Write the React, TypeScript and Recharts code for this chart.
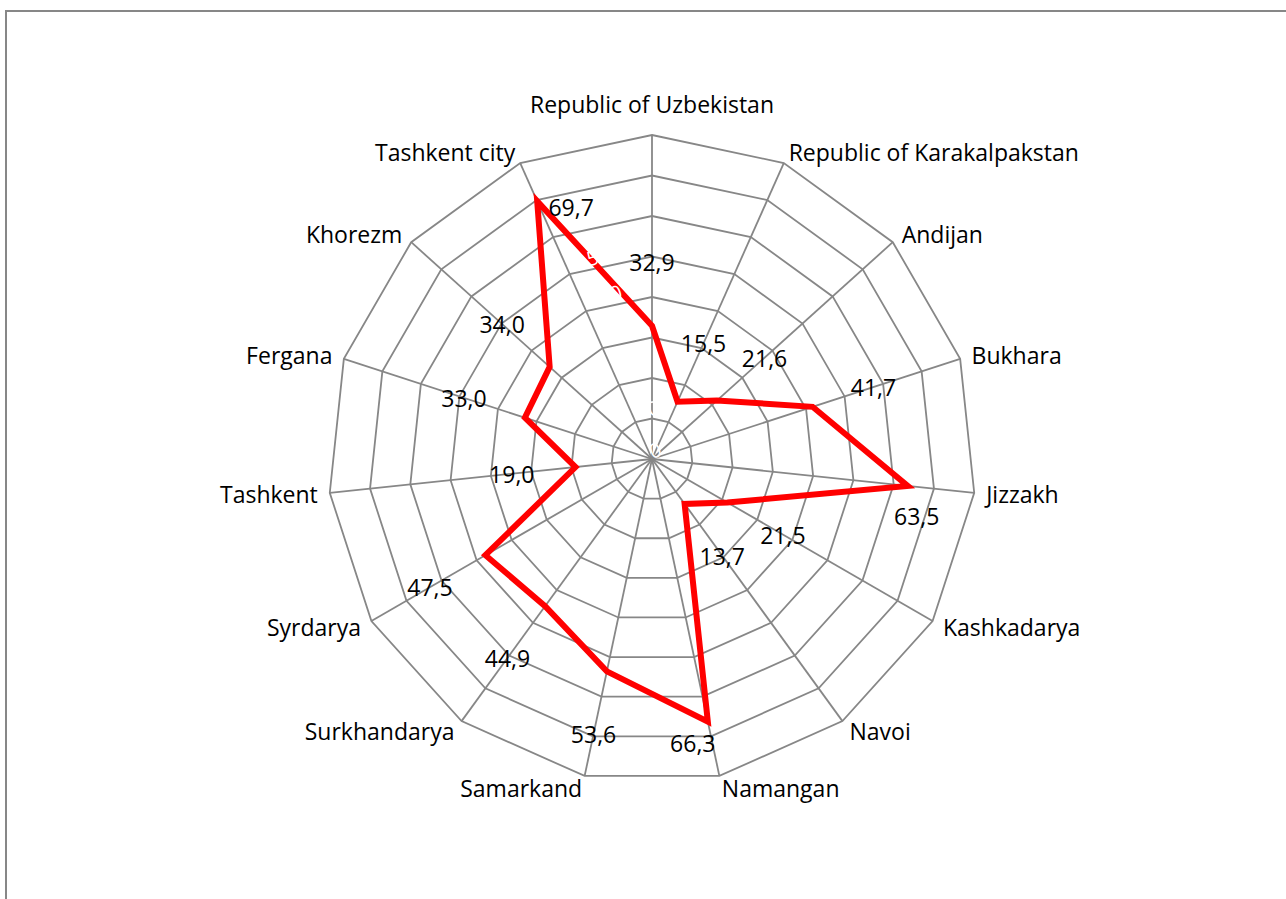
import { RadarChart, Radar, PolarGrid, PolarAngleAxis, PolarRadiusAxis } from 'recharts';

const REGIONS = [
  'Republic of Uzbekistan',
  'Republic of Karakalpakstan',
  'Andijan',
  'Bukhara',
  'Jizzakh',
  'Kashkadarya',
  'Navoi',
  'Namangan',
  'Samarkand',
  'Surkhandarya',
  'Syrdarya',
  'Tashkent',
  'Fergana',
  'Khorezm',
  'Tashkent city',
];

const VALUES = [32.9, 15.5, 21.6, 41.7, 63.5, 21.5, 13.7, 66.3, 53.6, 44.9, 47.5, 19.0, 33.0, 34.0, 69.7];

const RADIUS_TICKS = [0, 10, 20, 30, 40, 50, 60, 70, 80];

const data = REGIONS.map((region, i) => ({ region, value: VALUES[i] }));

const CX = 652;
const CY = 459;
const OUTER = 324;
const FONT = 'Open Sans, sans-serif';
const GRID = '#878787';
const RAD = Math.PI / 180;

// labels that were moved by hand in the original, offset from the point
const LABEL_NUDGE: Record<string, [number, number]> = {
  Jizzakh: [9, 30],
  Namangan: [-15, 21],
  'Tashkent city': [34, 6],
};

const fmt = (v: number) => v.toFixed(1).replace('.', ',');

function AngleTick(props: any) {
  const { payload } = props;
  const a = payload.coordinate;
  const r = OUTER + 12;
  const cos = Math.cos(a * RAD);
  const x = CX + cos * r;
  let y = CY - Math.sin(a * RAD) * r;
  const anchor = cos > 0.02 ? 'start' : cos < -0.02 ? 'end' : 'middle';
  if (anchor === 'middle') y -= 19;
  return (
    <text x={x} y={y} textAnchor={anchor} dominantBaseline="central" fontSize={23} fontFamily={FONT} fill="#000">
      {payload.value}
    </text>
  );
}

function ValueLabel(props: any) {
  const { cx, cy, index } = props;
  const name = REGIONS[index];
  let x: number;
  let y: number;
  if (LABEL_NUDGE[name]) {
    x = cx + LABEL_NUDGE[name][0];
    y = cy + LABEL_NUDGE[name][1];
  } else {
    const a = (90 - index * (360 / REGIONS.length)) * RAD;
    x = cx + Math.cos(a) * 64;
    y = cy - Math.sin(a) * 64;
  }
  return (
    <text key={`lbl-${index}`} x={x} y={y} textAnchor="middle" dominantBaseline="central" fontSize={23} fontFamily={FONT} fill="#000">
      {fmt(VALUES[index])}
    </text>
  );
}

export default function App() {
  return (
    <div style={{ position: 'absolute', left: 0, top: 0, width: 1286, height: 899, overflow: 'hidden', background: '#fff' }}>
      <div
        style={{
          position: 'absolute',
          left: 5,
          top: 10,
          width: 1300,
          height: 900,
          borderLeft: `2px solid ${GRID}`,
          borderTop: `2px solid ${GRID}`,
        }}
      />
      <div style={{ position: 'absolute', left: 0, top: 0 }}>
        <RadarChart width={1286} height={899} data={data} cx={CX} cy={CY} outerRadius={OUTER} margin={{ top: 0, right: 0, bottom: 0, left: 0 }}>
          <PolarGrid gridType="polygon" stroke={GRID} strokeWidth={1.8} />
          <PolarAngleAxis dataKey="region" tick={<AngleTick />} tickLine={false} axisLine={false} />
          <PolarRadiusAxis
            angle={108}
            domain={[0, 80]}
            ticks={RADIUS_TICKS}
            tickCount={9}
            axisLine={false}
            tickLine={false}
            tick={{ fill: '#ffffff', fontSize: 20, fontFamily: FONT }}
          />
          <Radar
            dataKey="value"
            stroke="#ff0000"
            strokeWidth={6}
            strokeLinejoin="miter"
            fill="none"
            fillOpacity={0}
            dot={(p: any) => <ValueLabel {...p} />}
            isAnimationActive={false}
          />
        </RadarChart>
      </div>
    </div>
  );
}
